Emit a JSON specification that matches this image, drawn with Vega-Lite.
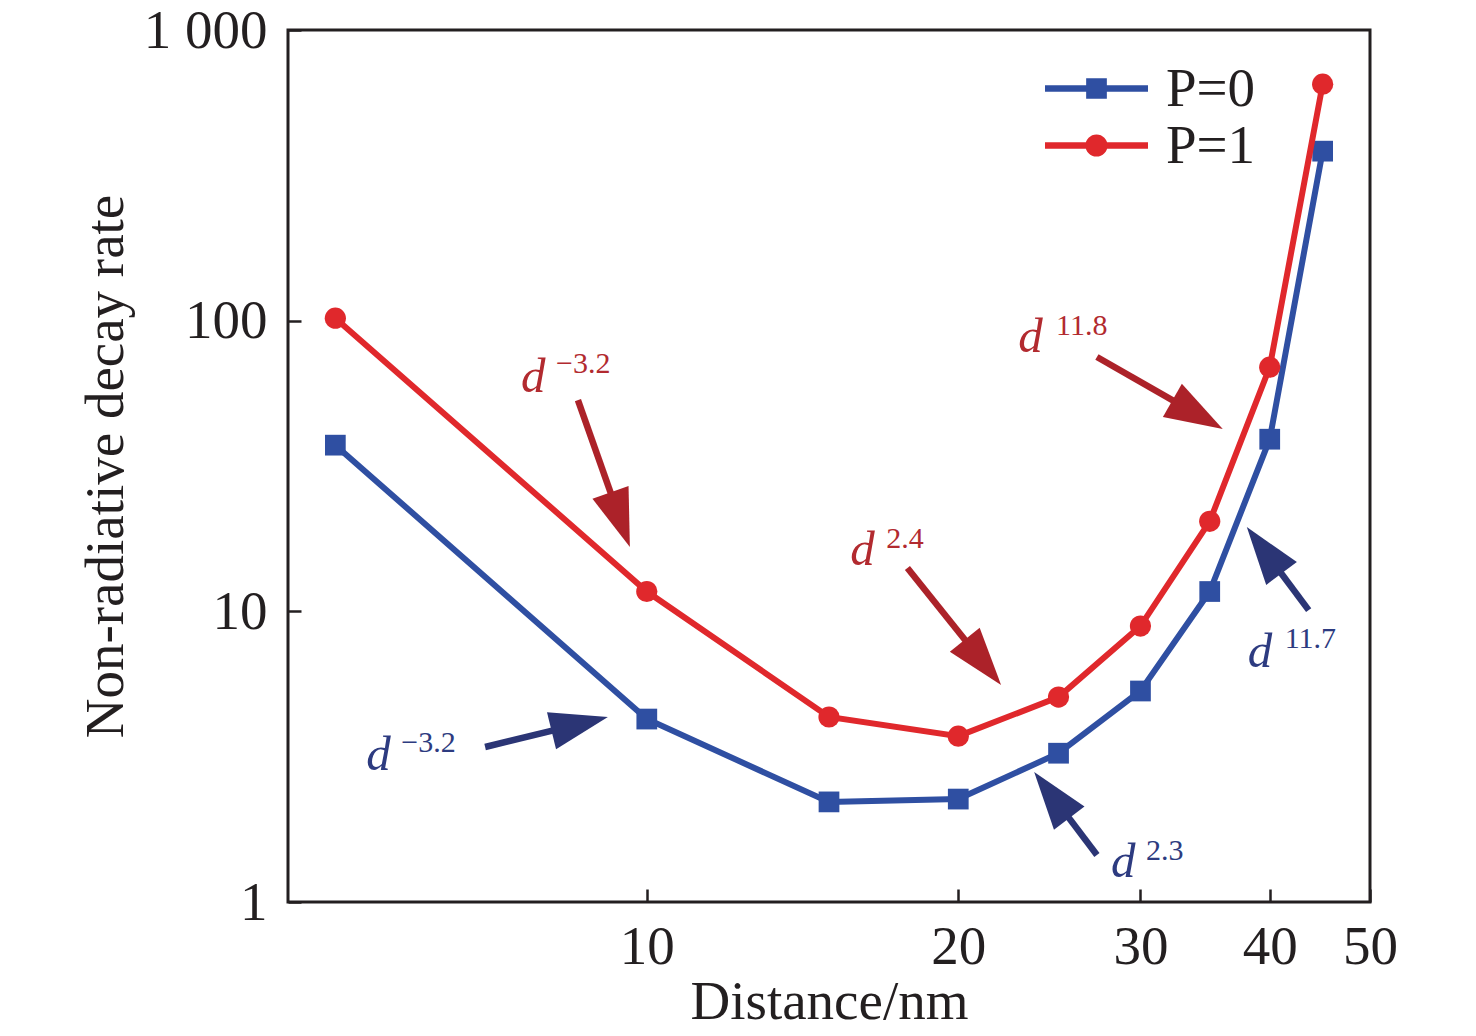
{
  "$schema": "https://vega.github.io/schema/vega-lite/v6.json",
  "width": 1082,
  "height": 872,
  "autosize": {"type": "none"},
  "padding": {"left": 288, "top": 30, "right": 106, "bottom": 134},
  "background": "white",
  "config": {
    "view": {"stroke": "#231F20", "strokeWidth": 3},
    "font": "Liberation Serif",
    "axis": {
      "domain": false, "grid": false,
      "tickColor": "#231F20", "tickWidth": 2.5, "tickSize": -13,
      "labelFont": "Liberation Serif", "labelFontSize": 55, "labelColor": "#231F20",
      "labelOverlap": false, "labelFlush": false, "labelBound": false,
      "titleFont": "Liberation Serif", "titleFontSize": 55, "titleFontWeight": "normal", "titleColor": "#231F20"
    }
  },
  "datasets": {
    "curves": [
      {"series": "P=0", "d": 5, "rate": 37.3},
      {"series": "P=0", "d": 10, "rate": 4.26},
      {"series": "P=0", "d": 15, "rate": 2.21},
      {"series": "P=0", "d": 20, "rate": 2.26},
      {"series": "P=0", "d": 25, "rate": 3.25},
      {"series": "P=0", "d": 30, "rate": 5.32},
      {"series": "P=0", "d": 35, "rate": 11.7},
      {"series": "P=0", "d": 40, "rate": 39.1},
      {"series": "P=0", "d": 45, "rate": 383},
      {"series": "P=1", "d": 5, "rate": 102},
      {"series": "P=1", "d": 10, "rate": 11.7},
      {"series": "P=1", "d": 15, "rate": 4.33},
      {"series": "P=1", "d": 20, "rate": 3.72},
      {"series": "P=1", "d": 25, "rate": 5.07},
      {"series": "P=1", "d": 30, "rate": 8.9},
      {"series": "P=1", "d": 35, "rate": 20.4},
      {"series": "P=1", "d": 40, "rate": 69.2},
      {"series": "P=1", "d": 45, "rate": 651}
    ],
    "shafts": [
      {"id": 1, "series": "P=1", "d": 8.579, "rate": 53.3, "d2": 9.383, "rate2": 21.61},
      {"id": 2, "series": "P=0", "d": 6.978, "rate": 3.414, "d2": 8.503, "rate2": 4.054},
      {"id": 3, "series": "P=1", "d": 17.86, "rate": 14.09, "d2": 20.96, "rate2": 6.925},
      {"id": 4, "series": "P=1", "d": 27.23, "rate": 74.98, "d2": 33.68, "rate2": 48.64},
      {"id": 5, "series": "P=0", "d": 43.62, "rate": 10.1, "d2": 39.81, "rate2": 15.62},
      {"id": 6, "series": "P=0", "d": 27.23, "rate": 1.451, "d2": 24.82, "rate2": 2.245}
    ],
    "heads": [
      {"id": 1, "series": "P=1", "d": 9.63, "rate": 16.64},
      {"id": 2, "series": "P=0", "d": 9.17, "rate": 4.329},
      {"id": 3, "series": "P=1", "d": 22.0, "rate": 5.578},
      {"id": 4, "series": "P=1", "d": 36.03, "rate": 42.39},
      {"id": 5, "series": "P=0", "d": 38.01, "rate": 19.5},
      {"id": 6, "series": "P=0", "d": 23.68, "rate": 2.801}
    ],
    "notes": [
      {"series": "P=1", "part": "base", "d": 7.557, "rate": 56.81, "label": "d"},
      {"series": "P=1", "part": "exp", "d": 8.17, "rate": 66.03, "label": "−3.2"},
      {"series": "P=0", "part": "base", "d": 5.357, "rate": 2.845, "label": "d"},
      {"series": "P=0", "part": "exp", "d": 5.79, "rate": 3.281, "label": "−3.2"},
      {"series": "P=1", "part": "base", "d": 15.73, "rate": 14.43, "label": "d"},
      {"series": "P=1", "part": "exp", "d": 17.04, "rate": 16.51, "label": "2.4"},
      {"series": "P=1", "part": "base", "d": 22.85, "rate": 77.98, "label": "d"},
      {"series": "P=1", "part": "exp", "d": 24.86, "rate": 89.2, "label": "11.8"},
      {"series": "P=0", "part": "base", "d": 38.08, "rate": 6.434, "label": "d"},
      {"series": "P=0", "part": "exp", "d": 41.35, "rate": 7.476, "label": "11.7"},
      {"series": "P=0", "part": "base", "d": 28.09, "rate": 1.219, "label": "d"},
      {"series": "P=0", "part": "exp", "d": 30.37, "rate": 1.394, "label": "2.3"}
    ]
  },
  "layer": [
    {
      "data": {"name": "curves"},
      "transform": [{"filter": "datum.series == 'P=0'"}],
      "mark": {"type": "line", "color": "#2F4FA2", "strokeWidth": 6},
      "encoding": {
        "x": {"field": "d", "type": "quantitative",
              "scale": {"type": "log", "domain": [4.5, 50], "nice": false},
              "axis": {"values": [10, 20, 30, 40, 50], "format": "d", "labelPadding": 31,
                       "title": "Distance/nm", "titleX": 541, "titleY": 116, "titleBaseline": "alphabetic", "titleAlign": "center"}},
        "y": {"field": "rate", "type": "quantitative",
              "scale": {"type": "log", "domain": [1, 1000], "nice": false},
              "axis": {"values": [1, 10, 100, 1000], "labelExpr": "datum.value == 1000 ? '1 000' : format(datum.value, 'd')",
                       "labelPadding": 34, "labelBaseline": "middle",
                       "title": "Non-radiative decay rate", "titleX": -166, "titleY": 436, "titleAngle": -90,
                       "titleBaseline": "alphabetic", "titleAlign": "center"}}
      }
    },
    {
      "data": {"name": "curves"},
      "transform": [{"filter": "datum.series == 'P=0'"}],
      "mark": {"type": "point", "shape": "square", "filled": true, "size": 430, "color": "#2F4FA2", "opacity": 1},
      "encoding": {"x": {"field": "d", "type": "quantitative"}, "y": {"field": "rate", "type": "quantitative"}}
    },
    {
      "data": {"name": "curves"},
      "transform": [{"filter": "datum.series == 'P=1'"}],
      "mark": {"type": "line", "color": "#E0282C", "strokeWidth": 6},
      "encoding": {"x": {"field": "d", "type": "quantitative"}, "y": {"field": "rate", "type": "quantitative"}}
    },
    {
      "data": {"name": "curves"},
      "transform": [{"filter": "datum.series == 'P=1'"}],
      "mark": {"type": "point", "shape": "circle", "filled": true, "size": 450, "color": "#E0282C", "opacity": 1},
      "encoding": {"x": {"field": "d", "type": "quantitative"}, "y": {"field": "rate", "type": "quantitative"}}
    },
    {
      "data": {"name": "curves"},
      "transform": [{"filter": "datum.rate < 0"}],
      "mark": {"type": "point", "filled": true},
      "encoding": {
        "x": {"field": "d", "type": "quantitative"},
        "y": {"field": "rate", "type": "quantitative"},
        "color": {"field": "series", "type": "nominal",
                  "scale": {"domain": ["P=0", "P=1"], "range": ["#2F4FA2", "#E0282C"]},
                  "legend": {"title": null, "orient": "none", "legendX": 780, "legendY": 30, "padding": 0, "rowPadding": 0,
                             "labelOffset": 41, "symbolSize": 3249, "symbolStrokeWidth": 0, "symbolOpacity": 1,
                             "labelFont": "Liberation Serif", "labelFontSize": 55, "labelColor": "#231F20", "labelLimit": 400}},
        "shape": {"field": "series", "type": "nominal",
                  "scale": {"domain": ["P=0", "P=1"],
                            "range": ["M-1.807,-0.114H1.807V0.114H-1.807Z M-0.363,-0.363H0.363V0.363H-0.363Z",
                                      "M-1.807,-0.114H1.807V0.114H-1.807Z M-0.39,0A0.39,0.39 0 1 1 0.39,0A0.39,0.39 0 1 1 -0.39,0Z"]},
                  "legend": {"title": null, "orient": "none", "legendX": 780, "legendY": 30, "padding": 0, "rowPadding": 0,
                             "labelOffset": 41, "symbolSize": 3249, "symbolStrokeWidth": 0, "symbolOpacity": 1,
                             "labelFont": "Liberation Serif", "labelFontSize": 55, "labelColor": "#231F20", "labelLimit": 400}}
      }
    },
    {
      "data": {"name": "shafts"},
      "transform": [{"filter": "datum.series == 'P=1'"}],
      "mark": {"type": "rule", "color": "#AC2229", "strokeWidth": 6.5, "strokeCap": "butt"},
      "encoding": {"x": {"field": "d", "type": "quantitative"}, "y": {"field": "rate", "type": "quantitative"},
                   "x2": {"field": "d2"}, "y2": {"field": "rate2"}}
    },
    {
      "data": {"name": "shafts"},
      "transform": [{"filter": "datum.series == 'P=0'"}],
      "mark": {"type": "rule", "color": "#2B3575", "strokeWidth": 6.5, "strokeCap": "butt"},
      "encoding": {"x": {"field": "d", "type": "quantitative"}, "y": {"field": "rate", "type": "quantitative"},
                   "x2": {"field": "d2"}, "y2": {"field": "rate2"}}
    },
    {
      "data": {"name": "heads"},
      "transform": [{"filter": "datum.id == 1"}],
      "mark": {"type": "point", "shape": "M0,0L-0.66,2L0.66,2Z", "size": 3364, "angle": 160.5, "filled": true, "color": "#AC2229", "opacity": 1, "strokeWidth": 0},
      "encoding": {"x": {"field": "d", "type": "quantitative"}, "y": {"field": "rate", "type": "quantitative"}}
    },
    {
      "data": {"name": "heads"},
      "transform": [{"filter": "datum.id == 2"}],
      "mark": {"type": "point", "shape": "M0,0L-0.66,2L0.66,2Z", "size": 3364, "angle": 76.3, "filled": true, "color": "#2B3575", "opacity": 1, "strokeWidth": 0},
      "encoding": {"x": {"field": "d", "type": "quantitative"}, "y": {"field": "rate", "type": "quantitative"}}
    },
    {
      "data": {"name": "heads"},
      "transform": [{"filter": "datum.id == 3"}],
      "mark": {"type": "point", "shape": "M0,0L-0.66,2L0.66,2Z", "size": 3364, "angle": 141.2, "filled": true, "color": "#AC2229", "opacity": 1, "strokeWidth": 0},
      "encoding": {"x": {"field": "d", "type": "quantitative"}, "y": {"field": "rate", "type": "quantitative"}}
    },
    {
      "data": {"name": "heads"},
      "transform": [{"filter": "datum.id == 4"}],
      "mark": {"type": "point", "shape": "M0,0L-0.66,2L0.66,2Z", "size": 3364, "angle": 119.7, "filled": true, "color": "#AC2229", "opacity": 1, "strokeWidth": 0},
      "encoding": {"x": {"field": "d", "type": "quantitative"}, "y": {"field": "rate", "type": "quantitative"}}
    },
    {
      "data": {"name": "heads"},
      "transform": [{"filter": "datum.id == 5"}],
      "mark": {"type": "point", "shape": "M0,0L-0.66,2L0.66,2Z", "size": 3364, "angle": 323.2, "filled": true, "color": "#2B3575", "opacity": 1, "strokeWidth": 0},
      "encoding": {"x": {"field": "d", "type": "quantitative"}, "y": {"field": "rate", "type": "quantitative"}}
    },
    {
      "data": {"name": "heads"},
      "transform": [{"filter": "datum.id == 6"}],
      "mark": {"type": "point", "shape": "M0,0L-0.66,2L0.66,2Z", "size": 3364, "angle": 322.8, "filled": true, "color": "#2B3575", "opacity": 1, "strokeWidth": 0},
      "encoding": {"x": {"field": "d", "type": "quantitative"}, "y": {"field": "rate", "type": "quantitative"}}
    },
    {
      "data": {"name": "notes"},
      "transform": [{"filter": "datum.series == 'P=1' && datum.part == 'base'"}],
      "mark": {"type": "text", "font": "Liberation Serif", "fontStyle": "italic", "fontSize": 49, "align": "left", "baseline": "alphabetic", "color": "#B22A2F"},
      "encoding": {"x": {"field": "d", "type": "quantitative"}, "y": {"field": "rate", "type": "quantitative"}, "text": {"field": "label"}}
    },
    {
      "data": {"name": "notes"},
      "transform": [{"filter": "datum.series == 'P=1' && datum.part == 'exp'"}],
      "mark": {"type": "text", "font": "Liberation Serif", "fontSize": 30, "align": "left", "baseline": "alphabetic", "color": "#B22A2F"},
      "encoding": {"x": {"field": "d", "type": "quantitative"}, "y": {"field": "rate", "type": "quantitative"}, "text": {"field": "label"}}
    },
    {
      "data": {"name": "notes"},
      "transform": [{"filter": "datum.series == 'P=0' && datum.part == 'base'"}],
      "mark": {"type": "text", "font": "Liberation Serif", "fontStyle": "italic", "fontSize": 49, "align": "left", "baseline": "alphabetic", "color": "#2D3B80"},
      "encoding": {"x": {"field": "d", "type": "quantitative"}, "y": {"field": "rate", "type": "quantitative"}, "text": {"field": "label"}}
    },
    {
      "data": {"name": "notes"},
      "transform": [{"filter": "datum.series == 'P=0' && datum.part == 'exp'"}],
      "mark": {"type": "text", "font": "Liberation Serif", "fontSize": 30, "align": "left", "baseline": "alphabetic", "color": "#2D3B80"},
      "encoding": {"x": {"field": "d", "type": "quantitative"}, "y": {"field": "rate", "type": "quantitative"}, "text": {"field": "label"}}
    }
  ]
}
